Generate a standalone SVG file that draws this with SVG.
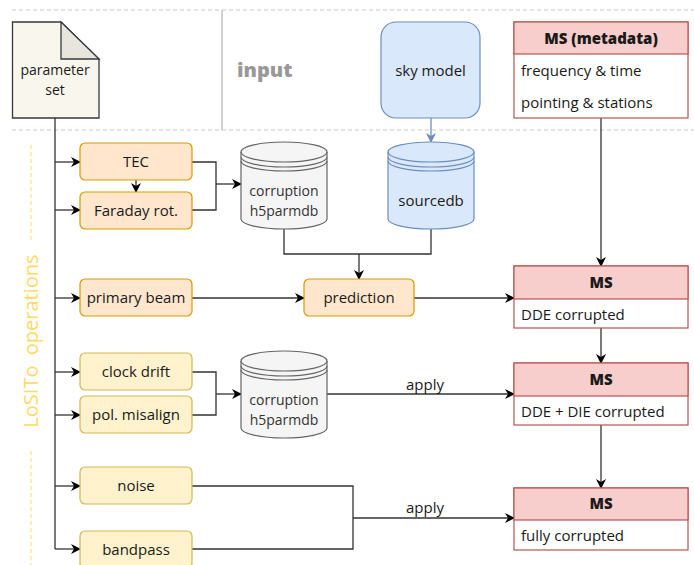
<svg xmlns="http://www.w3.org/2000/svg" width="694" height="565" viewBox="0 0 694 565">
<style>
text{font-family:"Open Sans","Noto Sans","Liberation Sans",sans-serif;font-size:15px;fill:#1a1a1a}
.c{text-anchor:middle}
.b{font-weight:800}
.two{font-size:14px}
.orange{fill:#ffe6cc;stroke:#d79b00;stroke-width:1.2}
.yellow{fill:#fff2cc;stroke:#d6b656;stroke-width:1.2}
.blue{fill:#dae8fc;stroke:#6c8ebf;stroke-width:1.2}
.gray{fill:#f5f5f5;stroke:#666;stroke-width:1.2}
.red{fill:#f8cecc;stroke:#b85450;stroke-width:1.2}
.white{fill:#fff;stroke:#b85450;stroke-width:1.2}
.ln{fill:none;stroke:#333;stroke-width:1.3}
.dash{fill:none;stroke:#c8c8c8;stroke-width:1;stroke-dasharray:4 3}
.ydash{fill:none;stroke:#ffd966;stroke-width:1;stroke-dasharray:4 3}
</style>
<defs>
<marker id="a" viewBox="0 0 10 10" refX="9" refY="5" markerWidth="10" markerHeight="10" markerUnits="userSpaceOnUse" orient="auto">
<path d="M0,0 L10,5 L0,10 L3,5 z" fill="#000"/>
</marker>
<marker id="ab" viewBox="0 0 10 10" refX="9" refY="5" markerWidth="10" markerHeight="10" markerUnits="userSpaceOnUse" orient="auto">
<path d="M0,0 L10,5 L0,10 L3,5 z" fill="#6c8ebf"/>
</marker>
</defs>
<rect width="694" height="565" fill="#fff"/>
<g id="frame">
<line class="dash" x1="12" y1="10" x2="694" y2="10"/>
<line class="dash" x1="12" y1="130" x2="694" y2="130"/>
<line x1="222" y1="10" x2="222" y2="130" stroke="#b3b3b3" stroke-width="1.2"/>
<text x="237" y="77" style="font-size:20px;font-weight:800;fill:#999">input</text>
<line class="ydash" x1="31" y1="145" x2="31" y2="243"/>
<line class="ydash" x1="31" y1="451" x2="31" y2="565"/>
<text class="c" transform="translate(38,341) rotate(-90)" style="font-size:20px;fill:#ffd966" xml:space="preserve">LoSITo  operations</text>
</g>
<g id="connectors">
<path class="ln" d="M55,118 V549"/>
<path class="ln" marker-end="url(#a)" d="M55,162 H80"/>
<path class="ln" marker-end="url(#a)" d="M55,210 H80"/>
<path class="ln" marker-end="url(#a)" d="M55,298 H80"/>
<path class="ln" marker-end="url(#a)" d="M55,372 H80"/>
<path class="ln" marker-end="url(#a)" d="M55,415 H80"/>
<path class="ln" marker-end="url(#a)" d="M55,486 H80"/>
<path class="ln" marker-end="url(#a)" d="M55,549 H80"/>
<path class="ln" marker-end="url(#a)" d="M136,180 V192"/>
<path class="ln" d="M192,162 H216 V210 H192"/>
<path class="ln" marker-end="url(#a)" d="M216,184 H241"/>
<path class="ln" d="M284,229 V254 H431 V229"/>
<path class="ln" marker-end="url(#a)" d="M359,254 V279"/>
<path fill="none" stroke="#6c8ebf" stroke-width="1.3" marker-end="url(#ab)" d="M431,118 V142"/>
<path class="ln" marker-end="url(#a)" d="M192,298 H304"/>
<path class="ln" marker-end="url(#a)" d="M414,298 H514"/>
<path class="ln" marker-end="url(#a)" d="M601,118 V266"/>
<path class="ln" marker-end="url(#a)" d="M601,328 V363"/>
<path class="ln" marker-end="url(#a)" d="M601,425 V488"/>
<path class="ln" d="M192,372 H216 V415 H192"/>
<path class="ln" marker-end="url(#a)" d="M216,394 H241"/>
<path class="ln" marker-end="url(#a)" d="M327,394 H514"/>
<text x="425" y="390" class="c">apply</text>
<path class="ln" d="M192,486 H353 V549 H192"/>
<path class="ln" marker-end="url(#a)" d="M353,518 H514"/>
<text x="425" y="513" class="c">apply</text>
</g>
<g id="paramset">
<path d="M12.5,22 H61 L99,59 V118 H12.5 Z" fill="#f9f7ed" stroke="#36393d" stroke-width="1.3"/>
<path d="M61,22 V59 H99 Z" fill="#e8e6dc" stroke="#36393d" stroke-width="1.3"/>
<text x="55" y="75" class="c two">parameter</text>
<text x="55" y="94.5" class="c two">set</text>
</g>
<g id="skymodel">
<rect x="381" y="22" width="99" height="96" rx="15" class="blue"/>
<text x="430.5" y="76" class="c">sky model</text>
</g>
<g id="msmeta">
<rect x="514" y="22" width="174" height="96" class="white"/>
<rect x="514" y="22" width="174" height="32" class="red"/>
<text x="601" y="44" class="c b">MS (metadata)</text>
<text x="521" y="76">frequency &amp; time</text>
<text x="521" y="108">pointing &amp; stations</text>
</g>
<g id="tec">
<rect x="80" y="143" width="112" height="37" rx="5" class="orange"/>
<text x="136" y="167" class="c">TEC</text>
</g>
<g id="faraday">
<rect x="80" y="192" width="112" height="37" rx="5" class="orange"/>
<text x="136" y="216" class="c">Faraday rot.</text>
</g>
<g id="h5parm1">
<path d="M241,152 A43,10 0 0 1 327,152 V219 A43,10 0 0 1 241,219 Z" class="gray"/>
<path d="M241,152 A43,10 0 0 0 327,152 M241,157 A43,10 0 0 0 327,157 M241,161 A43,10 0 0 0 327,161" fill="none" stroke="#666" stroke-width="1.2"/>
<text x="284" y="196" class="c two" style="fill:#333">corruption</text>
<text x="284" y="215.5" class="c two" style="fill:#333">h5parmdb</text>
</g>
<g id="sourcedb">
<path d="M388,152 A43,10 0 0 1 474,152 V219 A43,10 0 0 1 388,219 Z" class="blue"/>
<path d="M388,152 A43,10 0 0 0 474,152 M388,157 A43,10 0 0 0 474,157 M388,161 A43,10 0 0 0 474,161" fill="none" stroke="#6c8ebf" stroke-width="1.2"/>
<text x="431" y="206" class="c">sourcedb</text>
</g>
<g id="primarybeam">
<rect x="80" y="279" width="112" height="37" rx="5" class="orange"/>
<text x="136" y="303" class="c">primary beam</text>
</g>
<g id="prediction">
<rect x="304" y="279" width="110" height="37" rx="5" class="orange"/>
<text x="359" y="303" class="c">prediction</text>
</g>
<g id="ms1">
<rect x="514" y="266" width="174" height="62" class="white"/>
<rect x="514" y="266" width="174" height="33" class="red"/>
<text x="601" y="288" class="c b">MS</text>
<text x="521" y="320">DDE corrupted</text>
</g>
<g id="clockdrift">
<rect x="80" y="353" width="112" height="37" rx="5" class="yellow"/>
<text x="136" y="377" class="c">clock drift</text>
</g>
<g id="polmisalign">
<rect x="80" y="396" width="112" height="37" rx="5" class="yellow"/>
<text x="136" y="420" class="c">pol. misalign</text>
</g>
<g id="h5parm2">
<path d="M241,361 A43,10 0 0 1 327,361 V428 A43,10 0 0 1 241,428 Z" class="gray"/>
<path d="M241,361 A43,10 0 0 0 327,361 M241,366 A43,10 0 0 0 327,366 M241,370 A43,10 0 0 0 327,370" fill="none" stroke="#666" stroke-width="1.2"/>
<text x="284" y="405" class="c two" style="fill:#333">corruption</text>
<text x="284" y="424.5" class="c two" style="fill:#333">h5parmdb</text>
</g>
<g id="ms2">
<rect x="514" y="363" width="174" height="62" class="white"/>
<rect x="514" y="363" width="174" height="33" class="red"/>
<text x="601" y="385" class="c b">MS</text>
<text x="521" y="417">DDE + DIE corrupted</text>
</g>
<g id="noise">
<rect x="80" y="467" width="112" height="37" rx="5" class="yellow"/>
<text x="136" y="491" class="c">noise</text>
</g>
<g id="bandpass">
<rect x="80" y="531" width="112" height="37" rx="5" class="yellow"/>
<text x="136" y="555" class="c">bandpass</text>
</g>
<g id="ms3">
<rect x="514" y="488" width="174" height="62" class="white"/>
<rect x="514" y="488" width="174" height="32" class="red"/>
<text x="601" y="509" class="c b">MS</text>
<text x="521" y="541">fully corrupted</text>
</g>
</svg>
